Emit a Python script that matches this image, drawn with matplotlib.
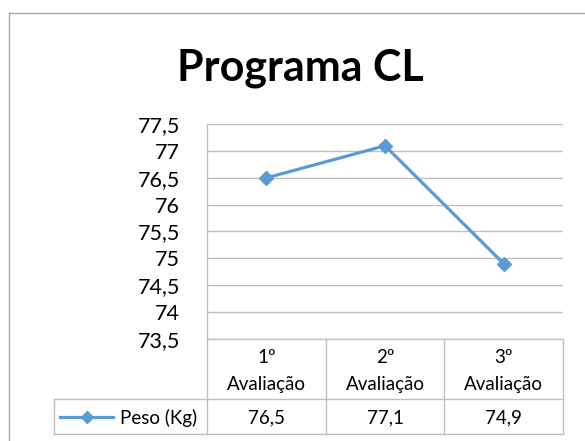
import matplotlib
matplotlib.use("Agg")
import matplotlib.pyplot as plt
from matplotlib.lines import Line2D
from matplotlib.ticker import FuncFormatter, MultipleLocator
from matplotlib.transforms import blended_transform_factory

# ---- data ----
title = "Programa CL"
categories = ["1º\nAvaliação", "2º\nAvaliação", "3º\nAvaliação"]
series_name = "Peso (Kg)"
values = [76.5, 77.1, 74.9]
value_labels = ["76,5", "77,1", "74,9"]
y_min, y_max, y_step = 73.5, 77.5, 0.5

W, H = 585, 441
FONT = "Lato"
GRID = "#BFBFBF"
BLUE = "#5B9BD5"

fig = plt.figure(figsize=(W / 100, H / 100), dpi=100)

def fx(x):
    return x / W

def fy(y):
    return 1 - y / H

# plot area (pixel coords)
L, R, T, B = 207, 563, 124.3, 338.7
ax = fig.add_axes([fx(L), fy(B), fx(R - L), (B - T) / H])

xs = list(range(len(values)))
ax.plot(xs, values, color=BLUE, lw=2.3, marker="D", markersize=7,
        markerfacecolor=BLUE, markeredgecolor=BLUE, zorder=3, clip_on=False)

ax.set_xlim(-0.5, len(values) - 0.5)
ax.set_ylim(y_min, y_max)
ax.yaxis.set_major_locator(MultipleLocator(y_step))
ax.yaxis.set_major_formatter(FuncFormatter(lambda v, p: f"{v:g}".replace(".", ",")))
ax.set_xticks([])
ax.tick_params(axis="y", length=0, pad=19.5, labelsize=15.5, labelcolor="#000000")
for lab in ax.get_yticklabels():
    lab.set_fontfamily(FONT)
ax.grid(axis="y", color=GRID, lw=1.0)
ax.set_axisbelow(True)
for s in ["top", "right"]:
    ax.spines[s].set_visible(False)
ax.spines["left"].set_color(GRID)
ax.spines["bottom"].set_color(GRID)
ax.spines["left"].set_linewidth(1.0)
ax.spines["bottom"].set_linewidth(1.0)

# ---- data table below ----
row1_top, row1_bot, row2_bot = 338.7, 399.3, 434
leg_left = 53.5
TFS = 13.5

def hline(x0, x1, y):
    fig.add_artist(Line2D([fx(x0), fx(x1)], [fy(y), fy(y)], color=GRID, lw=1.0))

def vline(x, y0, y1):
    fig.add_artist(Line2D([fx(x), fx(x)], [fy(y0), fy(y1)], color=GRID, lw=1.0))

hline(leg_left, R, row1_bot)
hline(leg_left, R, row2_bot)
col_edges = [L + i * (R - L) / len(values) for i in range(len(values) + 1)]
for x in col_edges:
    vline(x, row1_top, row2_bot)
vline(leg_left, row1_bot, row2_bot)

bt = blended_transform_factory(ax.transData, fig.transFigure)
for i, (cat, lab) in enumerate(zip(categories, value_labels)):
    ax.text(i, fy((row1_top + row1_bot) / 2 + 2), cat, transform=bt, ha="center",
            va="center", fontsize=TFS, family=FONT, linespacing=1.75, clip_on=False)
    ax.text(i, fy((row1_bot + row2_bot) / 2 + 1.5), lab, transform=bt, ha="center",
            va="center", fontsize=TFS, family=FONT, clip_on=False)

# legend key in table
ky = fy((row1_bot + row2_bot) / 2)
fig.add_artist(Line2D([fx(60), fx(113)], [ky, ky], color=BLUE, lw=2.3))
fig.add_artist(Line2D([fx(87)], [ky], color=BLUE, marker="D", markersize=6, lw=0))
fig.text(fx(120.5), fy((row1_bot + row2_bot) / 2 + 1.5), series_name, ha="left",
         va="center", fontsize=TFS, family=FONT)

# title
fig.text(fx(300), fy(80), title, ha="center", va="baseline", fontsize=31,
         fontweight="bold", family=FONT)

# chart outer border (left and top visible)
fig.add_artist(Line2D([fx(8.5), fx(8.5)], [fy(13), 0], color="#A6A6A6", lw=1.0))
fig.add_artist(Line2D([fx(8.5), 1], [fy(13), fy(13)], color="#A6A6A6", lw=1.0))

fig.savefig("out.png", dpi=100, facecolor="white")
